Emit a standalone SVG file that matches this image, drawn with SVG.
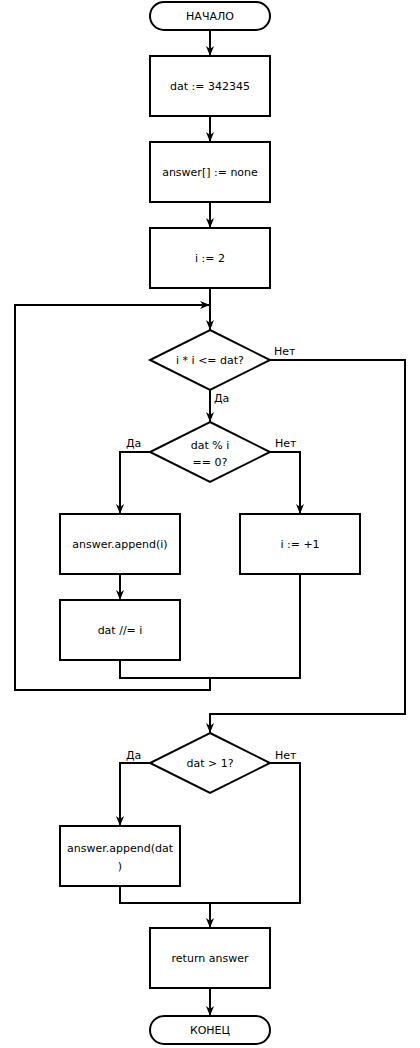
<svg xmlns="http://www.w3.org/2000/svg" width="420" height="1048" viewBox="0 0 420 1048">
  <style>
    .shape { fill: #ffffff; stroke: #000000; stroke-width: 2; }
    .line { fill: none; stroke: #000000; stroke-width: 2; }
    .arrow { fill: none; stroke: #000000; stroke-width: 2; marker-end: url(#head); }
    text { font-family: "DejaVu Sans", Verdana, sans-serif; font-size: 11px; fill: #000000; }
    .c { text-anchor: middle; dominant-baseline: central; }
  </style>
  <defs>
    <marker id="head" viewBox="0 0 10 10" refX="10" refY="5" markerWidth="10" markerHeight="10" markerUnits="userSpaceOnUse" orient="auto">
      <path d="M0,1 L10,5 L0,9 L3,5 z" fill="#000000"/>
    </marker>
  </defs>

  <g id="connectors">
    <path class="arrow" d="M210,30 V56"/>
    <path class="arrow" d="M210,116 V142"/>
    <path class="arrow" d="M210,202 V228"/>
    <path class="arrow" d="M210,288 V330"/>
    <path class="arrow" d="M210,390 V422"/>
    <path class="arrow" d="M150,452 H120 V514"/>
    <path class="arrow" d="M270,452 H300 V514"/>
    <path class="arrow" d="M120,574 V600"/>
    <path class="line" d="M120,660 V678 H300 V574"/>
    <path class="arrow" d="M210,678 V690 H15 V305 H210"/>
    <path class="arrow" d="M270,360 H405 V714 H210 V733"/>
    <path class="arrow" d="M150,763 H120 V826"/>
    <path class="line" d="M120,886 V903 H300 V763 H270"/>
    <path class="arrow" d="M210,903 V928"/>
    <path class="arrow" d="M210,988 V1016"/>
    <text x="274" y="355">Нет</text>
    <text x="214" y="402">Да</text>
    <text x="126" y="447">Да</text>
    <text x="275" y="447">Нет</text>
    <text x="126" y="759">Да</text>
    <text x="275" y="759">Нет</text>
  </g>

  <g id="start">
    <rect class="shape" x="150" y="2" width="120" height="28" rx="14"/>
    <text class="c" x="210" y="16">НАЧАЛО</text>
  </g>
  <g id="init-dat">
    <rect class="shape" x="150" y="56" width="120" height="60"/>
    <text class="c" x="210" y="86">dat := 342345</text>
  </g>
  <g id="init-answer">
    <rect class="shape" x="150" y="142" width="120" height="60"/>
    <text class="c" x="210" y="172">answer[] := none</text>
  </g>
  <g id="init-i">
    <rect class="shape" x="150" y="228" width="120" height="60"/>
    <text class="c" x="210" y="258">i := 2</text>
  </g>
  <g id="loop-check">
    <polygon class="shape" points="210,330 270,360 210,390 150,360"/>
    <text class="c" x="210" y="360">i * i &lt;= dat?</text>
  </g>
  <g id="divisible-check">
    <polygon class="shape" points="210,422 270,452 210,482 150,452"/>
    <text class="c" x="210" y="445">dat % i</text>
    <text class="c" x="210" y="462">== 0?</text>
  </g>
  <g id="append-i">
    <rect class="shape" x="60" y="514" width="120" height="60"/>
    <text class="c" x="120" y="544">answer.append(i)</text>
  </g>
  <g id="increment-i">
    <rect class="shape" x="240" y="514" width="120" height="60"/>
    <text class="c" x="300" y="544">i := +1</text>
  </g>
  <g id="divide-dat">
    <rect class="shape" x="60" y="600" width="120" height="60"/>
    <text class="c" x="120" y="630">dat //= i</text>
  </g>
  <g id="remainder-check">
    <polygon class="shape" points="210,733 270,763 210,793 150,763"/>
    <text class="c" x="210" y="763">dat &gt; 1?</text>
  </g>
  <g id="append-dat">
    <rect class="shape" x="60" y="826" width="120" height="60"/>
    <text class="c" x="120" y="848">answer.append(dat</text>
    <text class="c" x="120" y="866">)</text>
  </g>
  <g id="return">
    <rect class="shape" x="150" y="928" width="120" height="60"/>
    <text class="c" x="210" y="958">return answer</text>
  </g>
  <g id="end">
    <rect class="shape" x="150" y="1016" width="120" height="28" rx="14"/>
    <text class="c" x="210" y="1030">КОНЕЦ</text>
  </g>
</svg>
